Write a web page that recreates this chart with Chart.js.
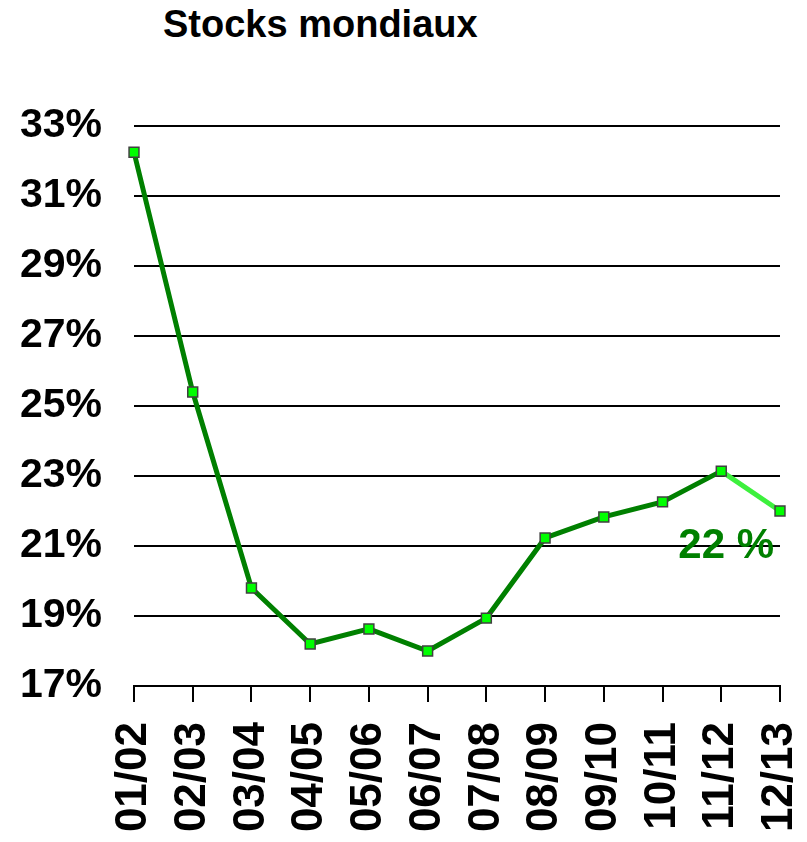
<!DOCTYPE html>
<html>
<head>
<meta charset="utf-8">
<script src="https://cdn.jsdelivr.net/npm/chart.js@4/dist/chart.umd.min.js"></script>
<style>
  html, body { margin: 0; padding: 0; background: #fff; }
  #wrap { position: relative; width: 807px; height: 842px; }
  #title {
    position: absolute; left: 163px; top: 5px; margin: 0;
    font: bold 38px 'Liberation Sans', Arial, sans-serif; line-height: 1; color: #000;
  }
  canvas { position: absolute; left: 0; top: 0; }
</style>
</head>
<body>
<div id="wrap">
  <h1 id="title">Stocks mondiaux</h1>
  <canvas id="chart" width="807" height="842"></canvas>
</div>
<script>
// campagnes
const seasons = ['01/02', '02/03', '03/04', '04/05', '05/06', '06/07', '07/08', '08/09', '09/10', '10/11', '11/12', '12/13'];
// stocks / consommation (%)
const stockRatio = [32.25, 25.4, 19.8, 18.2, 18.63, 18.0, 18.94, 21.23, 21.83, 22.26, 23.14, 22.0];
const yTicks = [17, 19, 21, 23, 25, 27, 29, 31, 33];
const lastLabel = '22 %';

const FONT = "'Liberation Sans', Arial, sans-serif";

// label for the last (estimated) season
const lastValuePlugin = {
    id: 'lastValue',
    afterDatasetsDraw(chart) {
        const ctx = chart.ctx;
        const x = chart.scales.x.getPixelForValue(seasons.length - 1);
        const y = chart.scales.y.getPixelForValue(21.0);
        ctx.save();
        ctx.font = 'bold 42px ' + FONT;
        ctx.fillStyle = '#008000';
        ctx.textAlign = 'right';
        ctx.textBaseline = 'middle';
        ctx.fillText(lastLabel, x - 6, y);
        ctx.restore();
    }
};

new Chart(document.getElementById('chart'), {
    type: 'line',
    data: {
        labels: seasons,
        datasets: [{
            data: stockRatio,
            borderColor: '#008000',
            borderWidth: 5,
            tension: 0,
            pointStyle: 'rect',
            pointRadius: 7,
            pointBackgroundColor: '#00ff00',
            pointBorderColor: '#404040',
            pointBorderWidth: 1.5,
            segment: {
                borderColor: c => c.p1DataIndex === seasons.length - 1 ? '#3df03d' : '#008000'
            }
        }]
    },
    options: {
        responsive: false,
        animation: false,
        layout: { padding: { top: 126, right: 27, left: 0, bottom: 0 } },
        plugins: {
            legend: { display: false },
            tooltip: { enabled: false }
        },
        scales: {
            x: {
                offset: false,
                grid: { drawOnChartArea: false, drawTicks: true, tickLength: 16, color: '#000', lineWidth: 2 },
                border: { color: '#000', width: 2 },
                ticks: {
                    autoSkip: false,
                    minRotation: 90,
                    maxRotation: 90,
                    padding: 20,
                    color: '#000',
                    font: { family: FONT, size: 44, weight: 'bold' }
                },
                afterFit: s => {
                    s.height = 842 - 686;
                    s.paddingLeft = 0;
                    s.paddingRight = 0;
                }
            },
            y: {
                min: 17,
                max: 33,
                afterBuildTicks: s => { s.ticks = yTicks.map(v => ({ value: v })); },
                grid: { color: '#000', lineWidth: 2, drawTicks: false },
                border: { display: false },
                ticks: {
                    padding: 32,
                    color: '#000',
                    font: { family: FONT, size: 41, weight: 'bold' },
                    callback: v => v + '%'
                },
                afterFit: s => { s.width = 134; }
            }
        }
    },
    plugins: [lastValuePlugin]
});
</script>
</body>
</html>
